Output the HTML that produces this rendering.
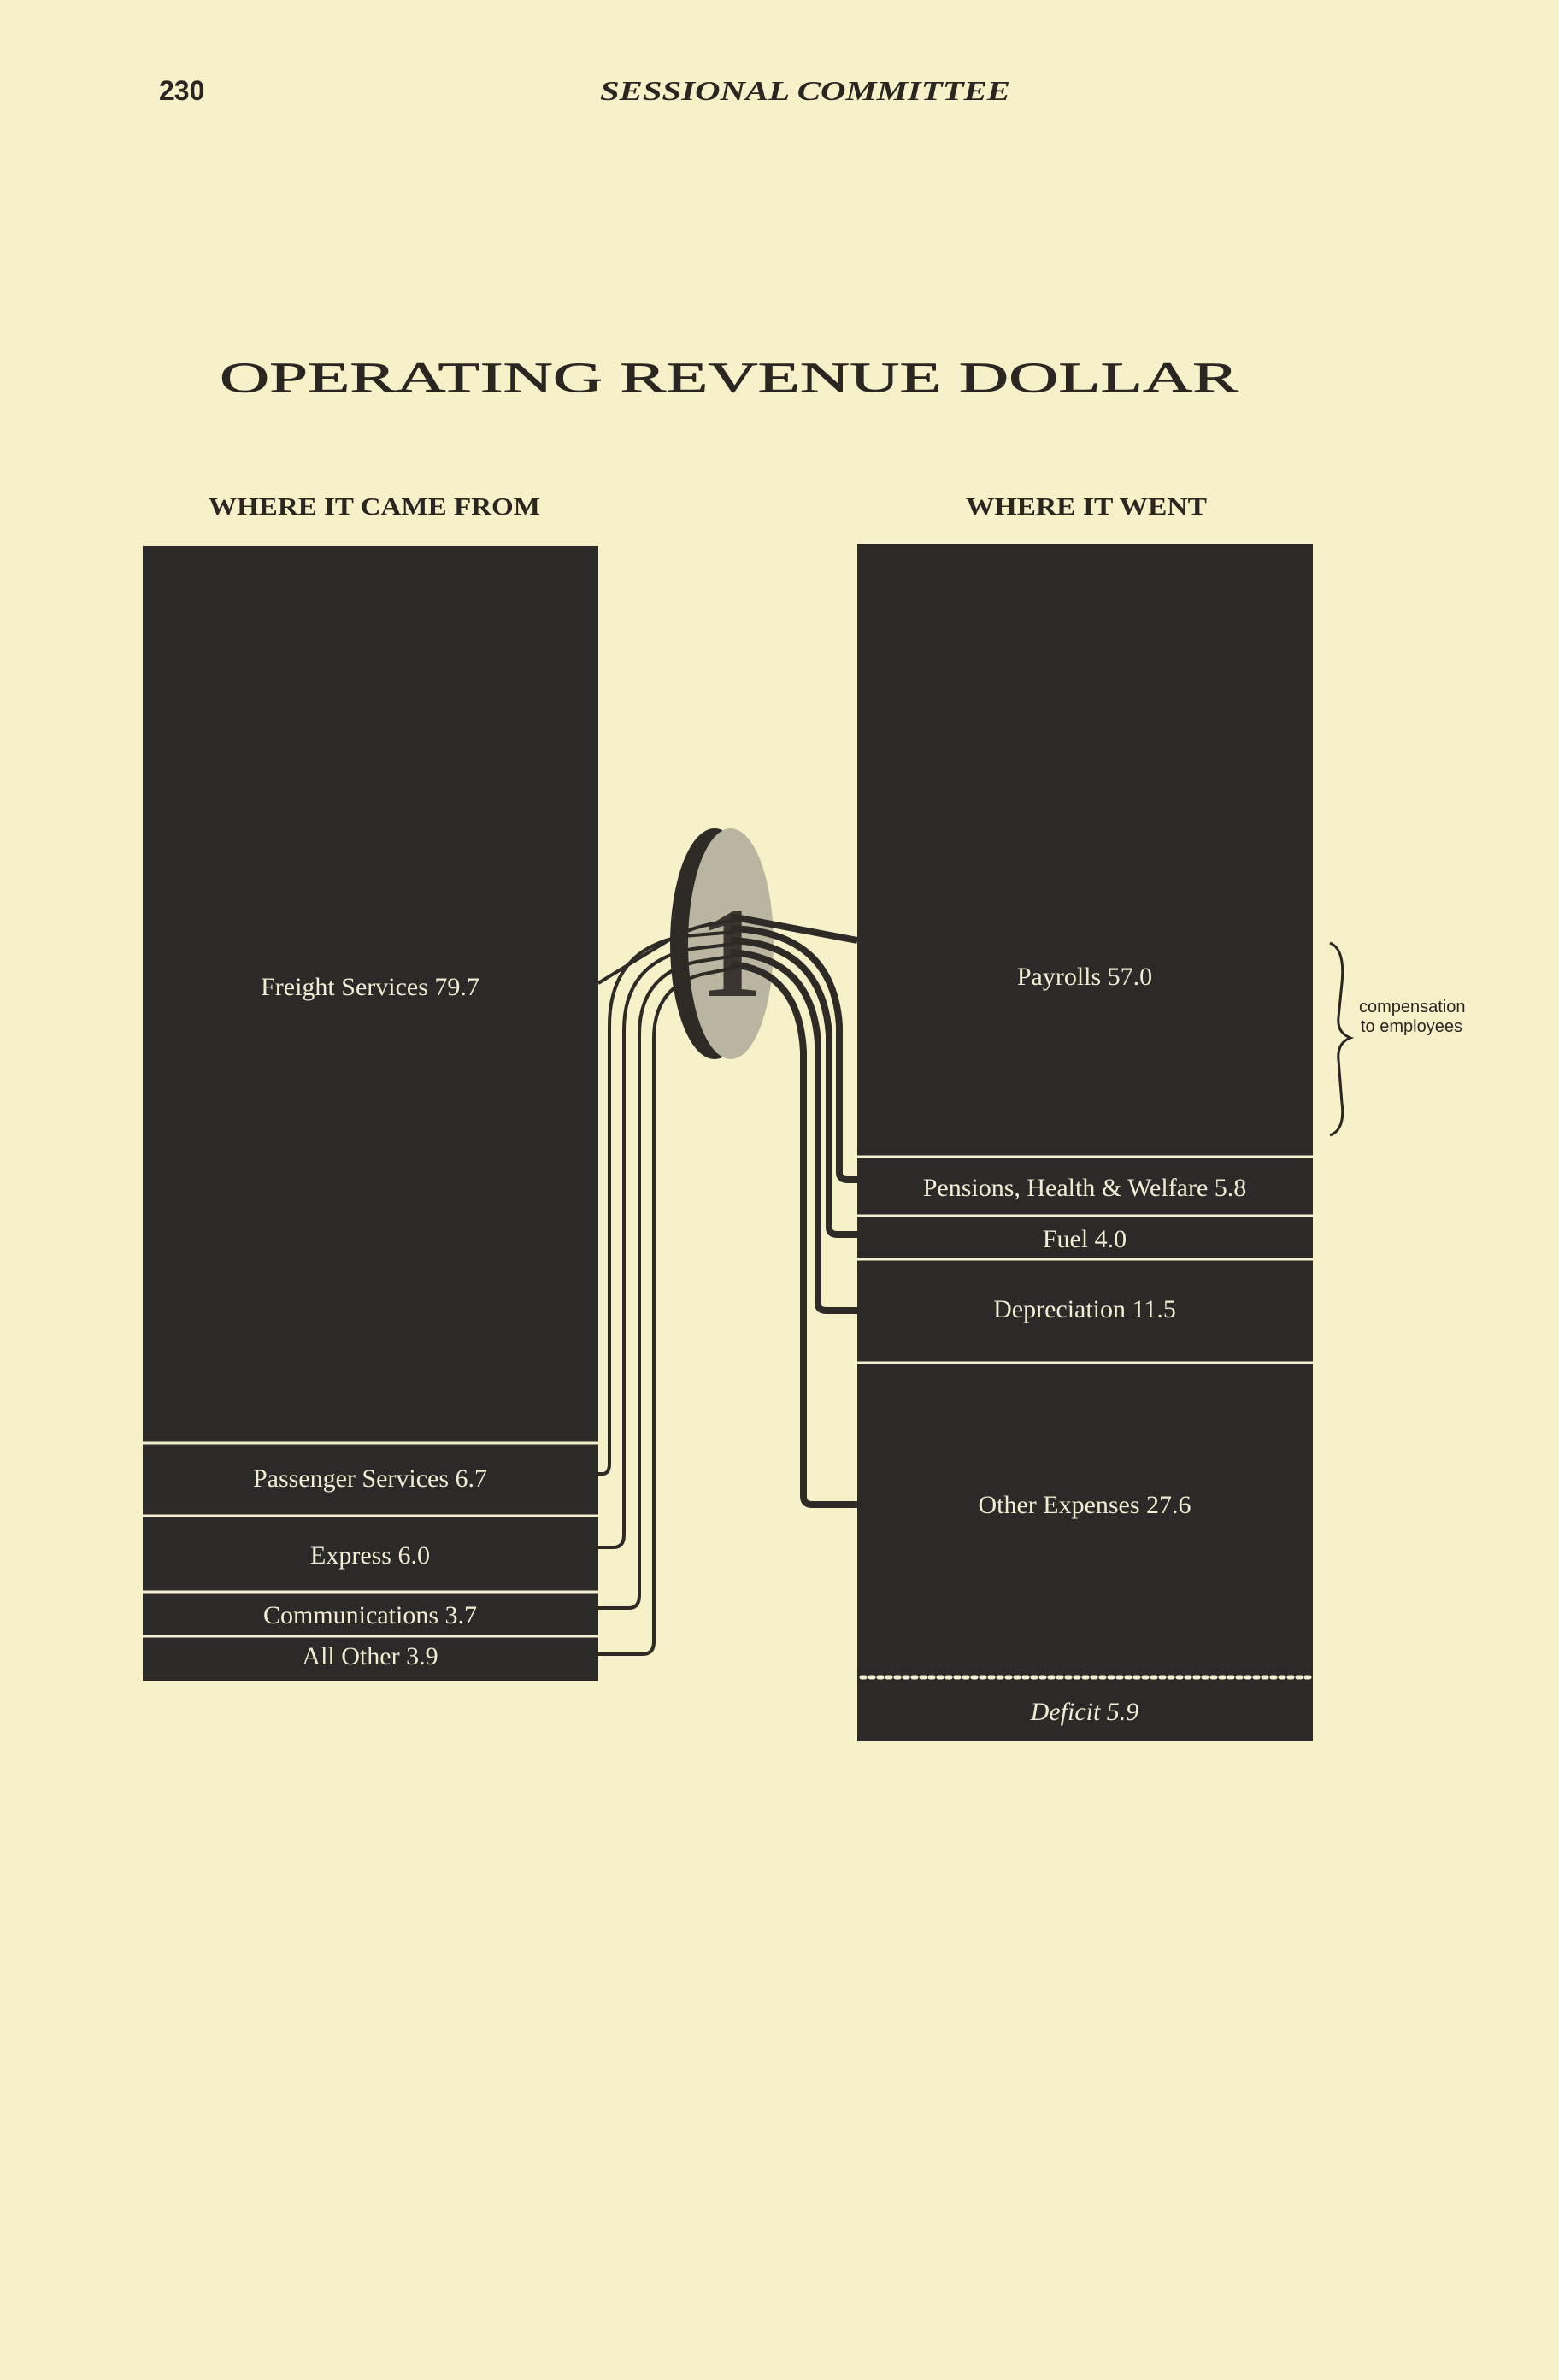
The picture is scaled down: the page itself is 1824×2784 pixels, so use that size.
<!DOCTYPE html>
<html><head><meta charset="utf-8"><style>
html,body{margin:0;padding:0;background:#f6f1c8;}
svg{display:block}
</style></head><body>
<svg width="1824" height="2784" viewBox="0 0 1824 2784" xmlns="http://www.w3.org/2000/svg">
<rect width="1824" height="2784" fill="#f6f1c8"/>
<g font-family="Liberation Serif, serif" fill="#2a2622">
<text x="186" y="117" font-size="32" font-weight="bold" font-family="Liberation Sans, sans-serif">230</text>
<text x="702" y="117" font-size="32" font-weight="bold" font-style="italic" textLength="480" lengthAdjust="spacingAndGlyphs">SESSIONAL COMMITTEE</text>
<text x="257" y="458" font-size="50" textLength="1192" lengthAdjust="spacingAndGlyphs" stroke="#2a2622" stroke-width="0.6">OPERATING REVENUE DOLLAR</text>
<text x="244" y="602" font-size="29" font-weight="bold" textLength="388" lengthAdjust="spacingAndGlyphs">WHERE IT CAME FROM</text>
<text x="1130" y="602" font-size="29" font-weight="bold" textLength="282" lengthAdjust="spacingAndGlyphs">WHERE IT WENT</text>
</g>
<!-- left box -->
<rect x="167" y="639" width="533" height="1327" fill="#2b2a28"/>
<g stroke="#f3efd0" stroke-width="3">
<line x1="167" y1="1688" x2="700" y2="1688"/>
<line x1="167" y1="1773" x2="700" y2="1773"/>
<line x1="167" y1="1862" x2="700" y2="1862"/>
<line x1="167" y1="1914" x2="700" y2="1914"/>
</g>
<!-- right box -->
<rect x="1003" y="636" width="533" height="1401" fill="#2b2a28"/>
<g stroke="#f3efd0" stroke-width="3">
<line x1="1003" y1="1353" x2="1536" y2="1353"/>
<line x1="1003" y1="1422" x2="1536" y2="1422"/>
<line x1="1003" y1="1473" x2="1536" y2="1473"/>
<line x1="1003" y1="1594" x2="1536" y2="1594"/>
</g>
<line x1="1008" y1="1962" x2="1532" y2="1962" stroke="#f3efd0" stroke-width="5" stroke-dasharray="4,6" stroke-linecap="round"/>
<g font-family="Liberation Serif, serif" fill="#f1ecd2" font-size="30" text-anchor="middle">
<text x="433" y="1164">Freight Services 79.7</text>
<text x="433" y="1739">Passenger Services 6.7</text>
<text x="433" y="1829">Express 6.0</text>
<text x="433" y="1899">Communications 3.7</text>
<text x="433" y="1947">All Other 3.9</text>
<text x="1269" y="1152">Payrolls 57.0</text>
<text x="1269" y="1399">Pensions, Health &amp; Welfare 5.8</text>
<text x="1269" y="1459">Fuel 4.0</text>
<text x="1269" y="1541">Depreciation 11.5</text>
<text x="1269" y="1770">Other Expenses 27.6</text>
<text x="1269" y="2012" font-style="italic">Deficit 5.9</text>
</g>
<!-- brace -->
<path d="M1556 1103 Q1574 1110 1570 1150 L1566 1190 Q1564 1208 1580 1214 Q1564 1220 1566 1240 L1570 1290 Q1574 1322 1556 1328" fill="none" stroke="#2a2622" stroke-width="3"/>
<g font-family="Liberation Sans, sans-serif" font-size="20" fill="#2a2622">
<text x="1590" y="1184">compensation</text>
<text x="1592" y="1207">to employees</text>
</g>
<!-- coin -->
<ellipse cx="836" cy="1104" rx="52" ry="135" fill="#2e2a26"/>
<ellipse cx="855" cy="1104" rx="50" ry="135" fill="#b9b5a0"/>
<text x="855" y="1165" font-family="Liberation Serif, serif" font-weight="bold" font-size="150" text-anchor="middle" fill="#3a3530">1</text>
<!-- left connectors -->
<g fill="none" stroke="#2e2a26" stroke-width="4">
<path d="M700 1150 L790 1095 Q820 1080 860 1077"/>
<path d="M700 1724 L705 1724 Q713 1724 713 1712 L713 1200 Q713 1110 800 1095 L860 1090"/>
<path d="M700 1810 L718 1810 Q730 1810 730 1795 L730 1205 Q730 1125 810 1110 L860 1104"/>
<path d="M700 1881 L736 1881 Q748 1881 748 1866 L748 1210 Q748 1140 815 1125 L860 1118"/>
<path d="M700 1935 L752 1935 Q765 1935 765 1920 L765 1215 Q765 1155 820 1140 L860 1132"/>
</g>
<!-- right connectors -->
<g fill="none" stroke="#2e2a26" stroke-width="8">
<path d="M855 1072 L1003 1100"/>
<path d="M855 1086 Q975 1090 982 1200 L982 1372 Q982 1380 992 1380 L1003 1380"/>
<path d="M855 1100 Q962 1104 970 1210 L970 1436 Q970 1444 980 1444 L1003 1444"/>
<path d="M855 1114 Q950 1120 957 1220 L957 1525 Q957 1533 967 1533 L1003 1533"/>
<path d="M855 1128 Q935 1135 940 1230 L940 1750 Q940 1760 950 1760 L1003 1760"/>
</g>
</svg>
</body></html>
